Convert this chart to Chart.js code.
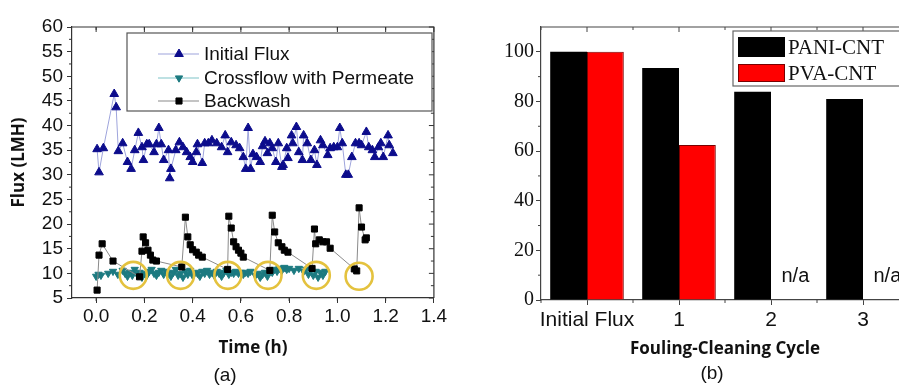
<!DOCTYPE html>
<html><head><meta charset="utf-8">
<script src="https://cdn.jsdelivr.net/npm/chart.js@4.4.1/dist/chart.umd.min.js"></script>
<style>
html,body{margin:0;padding:0;background:#fff;overflow:hidden;width:899px;height:385px;position:relative;}
#ca{position:absolute;left:0;top:0;}
#cb{position:absolute;left:460px;top:0;}
.lab{position:absolute;font-family:"Liberation Sans",Arial,sans-serif;font-size:19px;color:#111;transform:translateX(-50%);line-height:22px;}
</style></head><body>
<canvas id="ca" width="450" height="385"></canvas>
<canvas id="cb" width="460" height="385"></canvas>
<div class="lab" style="left:225px;top:364px">(a)</div>
<div class="lab" style="left:712px;top:362px">(b)</div>
<script>
// ---------- Panel (a) data ----------
const initialTime = [0.004,0.012,0.03,0.075,0.083,0.092,0.11,0.13,0.145,0.16,0.175,0.19,0.196,0.21,0.22,0.24,0.25,0.26,0.27,0.28,0.30,0.305,0.31,0.33,0.345,0.36,0.375,0.39,0.40,0.415,0.42,0.44,0.45,0.465,0.48,0.50,0.52,0.535,0.545,0.56,0.58,0.595,0.61,0.62,0.63,0.64,0.65,0.665,0.68,0.69,0.70,0.71,0.72,0.73,0.745,0.755,0.77,0.775,0.79,0.795,0.81,0.815,0.83,0.84,0.855,0.86,0.875,0.89,0.905,0.915,0.93,0.94,0.96,0.97,0.985,1.0,1.01,1.02,1.035,1.045,1.06,1.075,1.09,1.10,1.12,1.13,1.145,1.155,1.17,1.18,1.19,1.21,1.215,1.23];
const initialFlux = [35.2,30.5,35.4,46.4,43.7,34.8,36.4,32.6,31.2,35.0,38.5,35.6,33.0,36.2,36.2,34.6,36.2,39.5,36.2,33.0,35.0,29.3,31.2,35.0,36.6,35.6,34.6,33.6,32.6,34.6,36.2,32.4,36.4,36.4,37.0,36.4,35.6,38.0,34.6,36.6,36.0,35.4,33.6,31.2,39.5,31.2,34.2,33.6,32.6,35.8,36.8,34.4,36.4,35.4,32.6,36.4,31.6,32.0,35.4,33.4,38.0,36.4,39.7,34.6,33.0,38.0,36.4,33.0,35.0,32.0,37.0,36.0,34.0,35.4,35.6,35.6,39.5,36.4,30.0,30.0,33.6,36.4,36.4,36.0,38.7,35.6,35.0,33.6,35.6,36.4,33.6,38.0,36.0,34.4];

const crossTime = [0.00,0.01,0.02,0.05,0.07,0.09,0.11,0.12,0.13,0.14,0.15,0.16,0.17,0.18,0.19,0.20,0.21,0.22,0.23,0.24,0.25,0.26,0.27,0.28,0.29,0.30,0.31,0.32,0.33,0.34,0.35,0.36,0.37,0.38,0.39,0.40,0.41,0.42,0.43,0.44,0.45,0.46,0.47,0.48,0.49,0.50,0.51,0.52,0.53,0.54,0.55,0.56,0.57,0.58,0.59,0.60,0.61,0.62,0.63,0.64,0.66,0.67,0.68,0.69,0.70,0.71,0.72,0.73,0.74,0.75,0.76,0.77,0.78,0.79,0.80,0.82,0.84,0.86,0.87,0.88,0.89,0.90,0.91,0.92,0.93,0.94,0.95];
const crossFlux = [9.4,9.8,9.6,10.0,10.4,9.8,10.6,10.0,9.4,10.2,9.6,10.8,9.8,10.2,9.2,10.0,9.6,10.4,10.8,10.0,9.6,10.2,10.6,9.8,10.4,10.0,9.4,10.2,10.8,9.6,10.0,9.2,10.4,9.8,10.6,9.6,10.2,10.0,9.4,10.4,10.0,10.6,9.8,10.2,9.6,10.4,10.0,9.4,10.2,10.6,9.8,10.2,10.0,10.4,10.0,10.2,9.8,10.2,10.0,10.4,9.6,10.0,9.2,9.8,10.2,9.4,10.6,10.2,10.8,10.4,11.0,10.6,11.2,10.8,11.0,10.6,11.0,10.4,10.8,9.8,10.6,9.6,10.4,9.2,10.2,9.6,10.4];

const backTime = [0.004,0.012,0.025,0.07,0.18,0.19,0.195,0.205,0.215,0.225,0.235,0.25,0.355,0.37,0.38,0.39,0.40,0.415,0.425,0.44,0.545,0.55,0.56,0.57,0.58,0.59,0.60,0.61,0.72,0.73,0.74,0.755,0.77,0.78,0.795,0.895,0.905,0.91,0.925,0.94,0.955,0.97,1.07,1.08,1.09,1.10,1.115,1.12];
const backFlux = [6.6,13.7,16.0,12.5,9.3,14.5,17.4,16.2,14.7,13.7,12.7,12.5,11.3,21.4,17.4,15.8,14.8,14.3,13.7,13.3,10.8,21.6,19.2,16.4,15.4,14.7,14.1,13.3,10.6,21.8,18.4,16.2,15.4,14.7,14.3,11.0,19.0,16.0,16.8,16.4,16.4,15.1,10.9,10.5,23.3,19.4,16.8,17.2];

const circleTime = [0.154,0.35,0.546,0.7125,0.9125,1.09];
const circleFlux = [9.6,9.6,9.6,9.6,9.6,9.4];

const xTickStepA = 0.2, yTickStepA = 5;

// ---------- Panel (b) data ----------
const cycles = ['Initial Flux','1','2','3'];
const paniCNT = [100,93.5,83.9,81.0];
const pvaCNT = [100,62.5,null,null];
const yTickStepB = 20;

const SANS = '"Liberation Sans", Arial, sans-serif';
const SERIF = '"Liberation Serif", "Times New Roman", serif';
const BOLD = '"Open Sans", "Liberation Sans", sans-serif';

function pts(xs, ys){ return xs.map((x,i)=>({x:x, y:ys[i]})); }

function marker(ctx, style, r, rot, x, y, color){
  ctx.save();
  ctx.fillStyle = color; ctx.strokeStyle = color; ctx.lineWidth = 1;
  ctx.translate(x,y); ctx.rotate(rot*Math.PI/180);
  ctx.beginPath();
  if(style==='triangle'){
    ctx.moveTo(0,-r); ctx.lineTo(r*0.866, r*0.5); ctx.lineTo(-r*0.866, r*0.5); ctx.closePath();
  } else {
    const s = r*Math.SQRT1_2; ctx.rect(-s,-s,2*s,2*s);
  }
  ctx.fill(); ctx.stroke();
  ctx.restore();
}

function drawFrame(c, opt){
  const ctx = c.ctx, a = c.chartArea;
  ctx.save();
  ctx.strokeStyle = opt.color; ctx.lineWidth = 1.2;
  ctx.beginPath();
  ctx.moveTo(a.left, a.top); ctx.lineTo(a.right, a.top); ctx.lineTo(a.right, a.bottom);
  ctx.stroke();
  ctx.lineWidth = 1;
  ctx.beginPath();
  opt.xMajor.forEach(px=>{ ctx.moveTo(px, a.top); ctx.lineTo(px, a.top+5); });
  opt.yMajor.forEach(py=>{ ctx.moveTo(a.right, py); ctx.lineTo(a.right-5, py); });
  opt.xMinor.forEach(px=>{
    ctx.moveTo(px, a.top); ctx.lineTo(px, a.top+3);
    ctx.moveTo(px, a.bottom); ctx.lineTo(px, a.bottom+3);
  });
  opt.yMinor.forEach(py=>{
    ctx.moveTo(a.right, py); ctx.lineTo(a.right-3, py);
    ctx.moveTo(a.left, py); ctx.lineTo(a.left-3, py);
  });
  ctx.stroke();
  ctx.restore();
}

const pluginA = {
  id:'decorA',
  afterDraw(c){
    const xs = c.scales.x, ys = c.scales.y, ctx = c.ctx;
    const xMajor = xs.ticks.map(t=>xs.getPixelForValue(t.value));
    const yMajor = ys.ticks.map(t=>ys.getPixelForValue(t.value));
    const xMinor = [], yMinor = [];
    for(let v = xs.min + xTickStepA/2; v < xs.max; v += xTickStepA) xMinor.push(xs.getPixelForValue(v));
    for(let v = ys.min + yTickStepA/2; v < ys.max; v += yTickStepA) yMinor.push(ys.getPixelForValue(v));
    drawFrame(c, {color:'#333', xMajor, yMajor, xMinor, yMinor});
    const L=127,T=33,R=432,B=111;
    ctx.save();
    ctx.fillStyle='#fff'; ctx.fillRect(L,T,R-L,B-T);
    ctx.strokeStyle='#555'; ctx.lineWidth=1.2; ctx.strokeRect(L,T,R-L,B-T);
    const rows=[54,78,101];
    ctx.font = '19px '+SANS; ctx.textBaseline='middle'; ctx.textAlign='left';
    for(let i=0;i<3;i++){
      const ds = c.data.datasets[i], y = rows[i];
      ctx.strokeStyle = ds.borderColor; ctx.lineWidth = 1.2;
      ctx.beginPath(); ctx.moveTo(158,y); ctx.lineTo(199,y); ctx.stroke();
      marker(ctx, ds.pointStyle, ds.pointRadius, ds.pointRotation||0, 179, y, ds.pointBackgroundColor);
      ctx.fillStyle = '#111';
      ctx.fillText(ds.label, 204, y+1);
    }
    ctx.restore();
  }
};

const chartA = new Chart(document.getElementById('ca'), {
  type:'scatter',
  data:{datasets:[
    {label:'Initial Flux', data:pts(initialTime, initialFlux), showLine:true,
     borderColor:'#9ea4dc', borderWidth:1, pointStyle:'triangle', pointRadius:5,
     pointBackgroundColor:'#0c0c8c', pointBorderColor:'#0c0c8c', pointBorderWidth:1, order:1},
    {label:'Crossflow with Permeate', data:pts(crossTime, crossFlux), showLine:true,
     borderColor:'#7fc4c8', borderWidth:1, pointStyle:'triangle', pointRotation:180, pointRadius:4.2,
     pointBackgroundColor:'#1c7a80', pointBorderColor:'#1c7a80', pointBorderWidth:1, order:2},
    {label:'Backwash', data:pts(backTime, backFlux), showLine:true,
     borderColor:'#8a8a8a', borderWidth:1, pointStyle:'rect', pointRadius:4.3,
     pointBackgroundColor:'#000', pointBorderColor:'#000', pointBorderWidth:1, order:0},
    {label:'marks', data:pts(circleTime, circleFlux), showLine:false,
     pointStyle:'circle', pointRadius:13.5, pointBackgroundColor:'rgba(0,0,0,0)',
     pointBorderColor:'#e4c23e', pointBorderWidth:2.6, order:-1}
  ]},
  options:{
    responsive:false, animation:false, devicePixelRatio:1,
    layout:{padding:{top:27,right:13,left:0,bottom:0}},
    plugins:{legend:{display:false}, tooltip:{enabled:false}},
    scales:{
      x:{type:'linear', min:-0.1, max:1.4,
        afterFit(s){ s.height = 87; },
        ticks:{stepSize:xTickStepA, includeBounds:false, callback:v=>Number(v).toFixed(1),
          font:{family:SANS, size:19}, color:'#111', padding:2, maxRotation:0, autoSkip:false},
        grid:{drawOnChartArea:false, tickLength:5, color:'#333'},
        border:{color:'#333', width:1.2},
        title:{display:true, text:'Time (h)', font:{family:BOLD, weight:'bold', size:17}, color:'#111', padding:{top:0,bottom:27}}
      },
      y:{type:'linear', min:5, max:60,
        afterFit(s){ s.width = 72; },
        ticks:{stepSize:yTickStepA, includeBounds:false, font:{family:SANS, size:19}, color:'#111', padding:4, autoSkip:false},
        grid:{drawOnChartArea:false, tickLength:5, color:'#333'},
        border:{color:'#333', width:1.2},
        title:{display:true, text:'Flux (LMH)', font:{family:BOLD, weight:'bold', size:17}, color:'#111', padding:{top:9,bottom:0}}
      }
    }
  },
  plugins:[pluginA]
});

const pluginB = {
  id:'decorB',
  afterDraw(c){
    const xs = c.scales.x, ys = c.scales.y, ctx = c.ctx, a = c.chartArea;
    const centers = cycles.map((_,i)=>xs.getPixelForValue(i));
    const half = (centers[1]-centers[0])/2;
    const xMinor = [centers[0]-half].concat(centers.map(p=>p+half));
    const yMajor = ys.ticks.map(t=>ys.getPixelForValue(t.value));
    const yMinor = [];
    for(let v = yTickStepB/2; v < ys.max; v += yTickStepB) yMinor.push(ys.getPixelForValue(v));
    drawFrame(c, {color:'#444', xMajor:centers, yMajor, xMinor, yMinor});
    ctx.save();
    const m0 = c.getDatasetMeta(0);
    ctx.font = '20px '+SANS; ctx.fillStyle='#111'; ctx.textAlign='center'; ctx.textBaseline='middle';
    pvaCNT.forEach((v,i)=>{
      if(v===null){
        const el = m0.data[i];
        ctx.fillText('n/a', el.x + el.width + 6, ys.getPixelForValue(9.3));
      }
    });
    // legend (canvas starts at page x = 460)
    const L=273, T=31, R=470, B=86;
    ctx.fillStyle='#fff'; ctx.fillRect(L,T,R-L,B-T);
    ctx.strokeStyle='#666'; ctx.lineWidth=1.2; ctx.strokeRect(L,T,R-L,B-T);
    ctx.font = '21px '+SERIF; ctx.textAlign='left';
    c.data.datasets.forEach((ds,i)=>{
      const y0 = i===0 ? 37 : 64, h = i===0 ? 20 : 18;
      ctx.fillStyle = ds.backgroundColor; ctx.fillRect(278, y0, 47, h);
      ctx.strokeStyle = ds.borderColor; ctx.lineWidth=1; ctx.strokeRect(278.5, y0+0.5, 46, h-1);
      ctx.fillStyle='#111';
      ctx.fillText(ds.label, 328, y0 + h/2 + 1);
    });
    ctx.restore();
  }
};

const chartB = new Chart(document.getElementById('cb'), {
  type:'bar',
  data:{labels:cycles, datasets:[
    {label:'PANI-CNT', data:paniCNT, backgroundColor:'#000', borderColor:'#000', borderWidth:0,
     categoryPercentage:0.8, barPercentage:1.0},
    {label:'PVA-CNT', data:pvaCNT, backgroundColor:'#ff0000', borderColor:'#7a0000', borderWidth:1,
     categoryPercentage:0.8, barPercentage:1.0}
  ]},
  options:{
    responsive:false, animation:false, devicePixelRatio:1,
    layout:{padding:{top:27,right:11,left:0,bottom:0}},
    plugins:{legend:{display:false}, tooltip:{enabled:false}},
    scales:{
      x:{afterFit(s){ s.height = 85; },
        ticks:{font:{family:SANS, size:21}, color:'#111', padding:3, maxRotation:0, autoSkip:false},
        grid:{drawOnChartArea:false, offset:false, tickLength:5, color:'#444'},
        border:{color:'#444', width:1.2},
        title:{display:true, text:'Fouling-Cleaning Cycle', font:{family:BOLD, weight:'bold', size:17}, color:'#111', padding:{top:0,bottom:26}}
      },
      y:{min:0, max:110,
        afterFit(s){ s.width = 81; },
        ticks:{stepSize:yTickStepB, includeBounds:false, font:{family:SERIF, size:20}, color:'#111', padding:2, autoSkip:false},
        grid:{drawOnChartArea:false, tickLength:5, color:'#444'},
        border:{color:'#444', width:1.2}
      }
    }
  },
  plugins:[pluginB]
});
</script>
</body></html>
